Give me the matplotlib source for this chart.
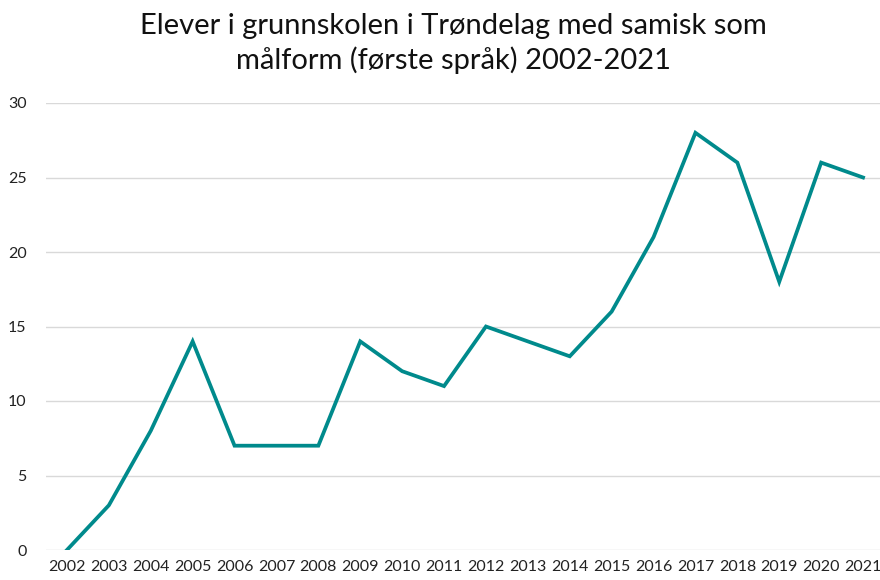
import numpy as np
import matplotlib
matplotlib.use("Agg")
import matplotlib.pyplot as plt

plt.rcParams['font.family'] = ['Lato', 'DejaVu Sans']

years = [str(y) for y in range(2002, 2022)]
elever = [0, 3, 8, 14, 7, 7, 7, 14, 12, 11, 15, 14, 13, 16, 21, 28, 26, 18, 26, 25]

fig = plt.figure(figsize=(8.8, 5.8), dpi=100)
ax = fig.add_axes([46/880, 30/580, 838/880, 447/580])

x = np.arange(len(years))
ax.plot(x, elever, color='#008A8C', linewidth=2.7, solid_joinstyle='miter')

ax.set_xlim(-0.5, len(years) - 0.5)
ax.set_ylim(0, 30)
ax.set_yticks(range(0, 31, 5))
ax.set_xticks(x)
ax.set_xticklabels(years)
ax.grid(axis='y', color='#d9d9d9', linewidth=1)
ax.set_axisbelow(True)
for s in ax.spines.values():
    s.set_visible(False)
ax.tick_params(length=0, labelsize=11.5, colors='#222222')
ax.tick_params(axis='y', pad=14)
ax.tick_params(axis='x', pad=7)

fig.text(0.515, 0.978, "Elever i grunnskolen i Trøndelag med samisk som\nmålform (første språk) 2002-2021",
         ha='center', va='top', fontsize=21, linespacing=1.32, color='#111111')

fig.savefig('out.png', dpi=100)
